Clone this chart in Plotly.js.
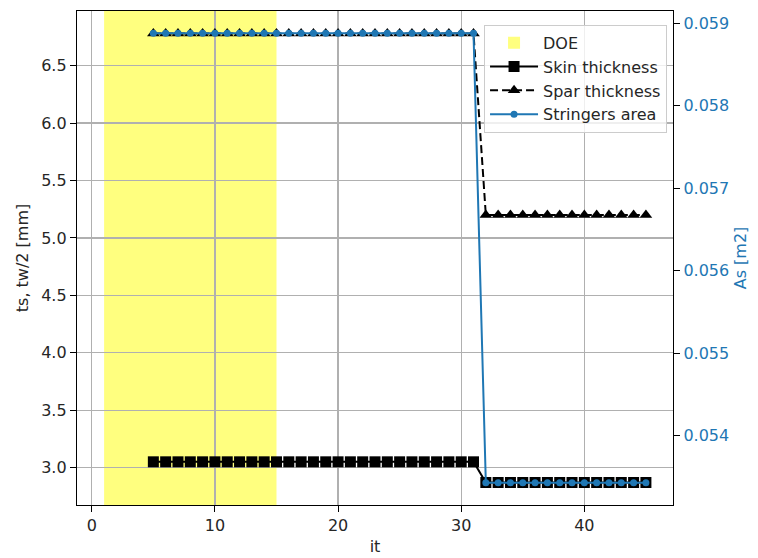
<!DOCTYPE html>
<html>
<head>
<meta charset="utf-8">
<script src="https://cdn.plot.ly/plotly-3.0.1.min.js"></script>
<style>html,body{margin:0;padding:0;background:#fff;}#chart{width:758px;height:558px;}</style>
</head>
<body>
<div id="chart"></div>
<script>
const iterations = [5,6,7,8,9,10,11,12,13,14,15,16,17,18,19,20,21,22,23,24,25,26,27,28,29,30,31,32,33,34,35,36,37,38,39,40,41,42,43,44,45];
const skinThickness = [3.05,3.05,3.05,3.05,3.05,3.05,3.05,3.05,3.05,3.05,3.05,3.05,3.05,3.05,3.05,3.05,3.05,3.05,3.05,3.05,3.05,3.05,3.05,3.05,3.05,3.05,3.05,2.87,2.87,2.87,2.87,2.87,2.87,2.87,2.87,2.87,2.87,2.87,2.87,2.87,2.87];
const sparThickness = [6.78,6.78,6.78,6.78,6.78,6.78,6.78,6.78,6.78,6.78,6.78,6.78,6.78,6.78,6.78,6.78,6.78,6.78,6.78,6.78,6.78,6.78,6.78,6.78,6.78,6.78,6.78,5.20,5.20,5.20,5.20,5.20,5.20,5.20,5.20,5.20,5.20,5.20,5.20,5.20,5.20];
const stringersArea = [0.05888,0.05888,0.05888,0.05888,0.05888,0.05888,0.05888,0.05888,0.05888,0.05888,0.05888,0.05888,0.05888,0.05888,0.05888,0.05888,0.05888,0.05888,0.05888,0.05888,0.05888,0.05888,0.05888,0.05888,0.05888,0.05888,0.05888,0.05343,0.05343,0.05343,0.05343,0.05343,0.05343,0.05343,0.05343,0.05343,0.05343,0.05343,0.05343,0.05343,0.05343];
const doeSpan = [1, 15];
const leftTicks = [3.0,3.5,4.0,4.5,5.0,5.5,6.0,6.5];
const rightTicks = [0.054,0.055,0.056,0.057,0.058,0.059];
const xTicks = [0,10,20,30,40];

const blue = '#1f77b4';
const fam = 'DejaVu Sans, sans-serif';
const font = {family: fam, size: 16, color: '#262626'};

const traces = [
  {x: iterations, y: skinThickness, name: 'Skin thickness', type: 'scatter', mode: 'lines+markers',
   line: {color: 'black', width: 2}, marker: {symbol: 'square', size: 11, color: 'black'},
   legendgroup: 'b', legendrank: 2},
  {x: iterations, y: sparThickness, name: 'Spar thickness', type: 'scatter', mode: 'lines+markers',
   line: {color: 'black', width: 2, dash: '8px,4px'}, marker: {symbol: 'triangle-up', size: 11, color: 'black'},
   legendgroup: 'c', legendrank: 3},
  {x: iterations, y: stringersArea, name: 'Stringers area', type: 'scatter', mode: 'lines+markers', yaxis: 'y2',
   line: {color: blue, width: 2}, marker: {symbol: 'circle', size: 7, color: blue},
   legendgroup: 'd', legendrank: 4}
];

const layout = {
  width: 758, height: 558,
  margin: {l: 77, r: 85, t: 11, b: 53},
  paper_bgcolor: 'white', plot_bgcolor: 'white',
  font: font,
  showlegend: true,
  legend: {x: 0.99, xanchor: 'right', y: 0.972, yanchor: 'top', bgcolor: 'rgba(255,255,255,0.8)',
           bordercolor: '#cccccc', borderwidth: 1, font: {family: fam, size: 16, color: '#262626'},
           traceorder: 'grouped', tracegroupgap: 0, itemwidth: 48},
  xaxis: {range: [-1.2, 47.2], tickvals: xTicks, ticktext: xTicks.map(String), ticks: 'outside', ticklen: 6,
          tickcolor: 'black', showline: true, linecolor: 'black', linewidth: 1.2, mirror: true,
          showgrid: true, gridcolor: '#b0b0b0', gridwidth: 1.2, zeroline: false,
          title: {text: 'it', font: font, standoff: 6}},
  yaxis: {range: [2.674, 6.976], tickvals: leftTicks, ticktext: leftTicks.map(v => v.toFixed(1)), ticks: 'outside', ticklen: 6,
          tickcolor: 'black', showline: true, linecolor: 'black', linewidth: 1.2, mirror: false,
          showgrid: true, gridcolor: '#b0b0b0', gridwidth: 1.2, zeroline: false,
          title: {text: 'ts, tw/2 [mm]', font: font, standoff: 8}},
  yaxis2: {overlaying: 'y', side: 'right', range: [0.05316, 0.05915], tickvals: rightTicks,
           ticktext: rightTicks.map(v => v.toFixed(3)), ticks: 'outside', ticklen: 6, tickcolor: 'black',
           showline: true, linecolor: 'black', linewidth: 1.2, showgrid: false, zeroline: false,
           tickfont: {family: fam, size: 16, color: blue},
           title: {text: 'As [m2]', font: {family: fam, size: 16, color: blue}, standoff: 6}},
  shapes: [{type: 'rect', xref: 'x', yref: 'paper', x0: doeSpan[0], x1: doeSpan[1], y0: 0, y1: 1,
            fillcolor: 'rgba(255,255,0,0.5)', line: {width: 0}, layer: 'below',
            showlegend: true, name: 'DOE', legendgroup: 'a', legendrank: 1}]
};

Plotly.newPlot('chart', traces, layout, {displayModeBar: false, staticPlot: true});
</script>
</body>
</html>
